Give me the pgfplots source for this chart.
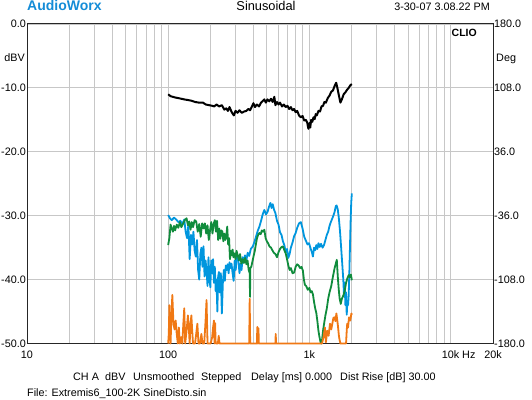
\documentclass[border=0pt]{standalone}
\usepackage{pgfplots}
\pgfplotsset{compat=1.18}
\usepackage{fontspec}
\setmainfont{Liberation Sans}
\definecolor{cblue}{RGB}{0,150,222}
\definecolor{cgreen}{RGB}{16,140,60}
\definecolor{corange}{RGB}{240,120,20}
\definecolor{awblue}{RGB}{20,140,215}
\begin{document}
\begin{tikzpicture}
\path[use as bounding box] (0,0) rectangle (532bp,400bp);
\begin{axis}[
  at={(27bp,56.5bp)}, anchor=south west, scale only axis,
  width=466bp, height=319.5bp,
  xmode=log, xmin=10, xmax=20000, ymin=-50, ymax=0,
  xtick={10,100,1000,10000,20000},
  xticklabels={10,100,1k,10k\rlap{ Hz},20k},
  minor xtick={20,30,40,50,60,70,80,90,200,300,400,500,600,700,800,900,2000,3000,4000,5000,6000,7000,8000,9000},
  ytick={-50,-40,-30,-20,-10,0},
  yticklabels={-50.0,-40.0,-30.0,-20.0,-10.0,0.0},
  xmajorgrids, xminorgrids, ymajorgrids,
  major grid style={black!22, line width=0.8bp},
  minor grid style={black!22, line width=0.8bp},
  major tick length=0pt, minor tick length=0pt,
  axis line style={black!85, line width=1bp},
  tick label style={font=\fontsize{10.8bp}{12bp}\selectfont},
  xticklabel style={yshift=-4bp},
  yticklabel style={inner sep=1bp},
  clip=false,
]
% blue
\addplot[cblue, line width=1.8bp, line join=round] coordinates {
(100,-29.9) (103,-30.4) (106,-30.7) (110,-30.3) (114,-30.6) (118,-31.0) (122,-30.8) (126,-31.3) (130,-30.6) (133,-32.5) (136,-33.5) (139,-31.5) (142,-36.8) (145,-33.0) (148,-34.5) (151,-32.5) (154,-35.5) (157,-36.4) (160,-33.8) (163,-38.5) (166,-40.0) (169,-36.0) (172,-35.0) (175,-38.0) (178,-34.8) (181,-39.5) (184,-37.0) (187,-38.6) (190,-41.0) (193,-36.5) (196,-39.8) (199,-41.2) (202,-37.0) (205,-39.0) (208,-36.8) (211,-40.5) (214,-38.0) (217,-41.8) (220,-40.0) (223,-45.0) (226,-39.5) (229,-38.8) (232,-42.0) (236,-39.0) (240,-45.3) (244,-40.5) (248,-38.5) (252,-40.2) (256,-37.8) (260,-38.5) (264,-37.6) (268,-39.0) (272,-37.3) (276,-38.2) (281,-37.5) (286,-39.0) (291,-40.2) (296,-37.0) (301,-38.5) (306,-36.3) (313,-36.5) (320,-39.0) (326,-37.5) (331,-38.5) (337,-36.5) (343,-37.3) (350,-36.2) (358,-37.0) (366,-35.8) (375,-36.3) (385,-35.2) (398,-34.8) (410,-34.0) (420,-33.2) (432,-32.3) (443,-31.7) (455,-30.8) (467,-29.8) (480,-29.1) (493,-29.8) (506,-29.4) (518,-28.6) (530,-28.0) (540,-28.8) (550,-28.2) (563,-29.1) (575,-29.6) (590,-30.8) (605,-31.4) (620,-32.6) (635,-33.0) (650,-34.0) (665,-34.6) (680,-35.7) (695,-35.2) (710,-36.6) (725,-36.0) (740,-35.0) (760,-34.2) (780,-33.2) (800,-32.7) (820,-31.9) (845,-31.2) (870,-31.0) (895,-32.0) (920,-33.3) (945,-33.9) (970,-34.5) (995,-34.3) (1020,-35.1) (1045,-35.8) (1060,-36.4) (1080,-35.0) (1100,-35.4) (1120,-34.6) (1140,-35.2) (1160,-34.3) (1185,-34.9) (1210,-34.4) (1240,-35.0) (1270,-34.6) (1300,-33.8) (1330,-33.0) (1360,-32.5) (1390,-31.6) (1420,-31.0) (1450,-30.5) (1480,-30.0) (1510,-29.4) (1540,-28.5) (1560,-28.4) (1590,-29.0) (1620,-30.5) (1650,-32.5) (1680,-35.0) (1710,-37.5) (1740,-40.0) (1760,-42.5) (1780,-40.5) (1800,-44.0) (1820,-42.0) (1840,-45.5) (1860,-43.5) (1880,-44.0) (1900,-42.5) (1920,-39.0) (1940,-35.0) (1960,-31.0) (1980,-28.0) (2000,-26.5)
};
% green
\addplot[cgreen, line width=1.8bp, line join=round] coordinates {
(100,-34.6) (102,-33.5) (104,-31.4) (106,-32.0) (108,-32.5) (110,-31.6) (112,-32.3) (115,-31.4) (118,-31.9) (121,-31.0) (124,-31.8) (128,-31.2) (132,-30.6) (135,-30.4) (138,-31.5) (141,-30.9) (144,-32.2) (147,-31.0) (150,-31.8) (154,-30.7) (158,-30.9) (162,-32.5) (166,-31.3) (170,-33.3) (174,-31.2) (178,-32.0) (182,-31.2) (186,-32.8) (190,-31.5) (194,-33.8) (198,-32.3) (202,-31.0) (206,-32.8) (210,-31.3) (214,-30.7) (218,-32.5) (222,-30.8) (226,-33.8) (230,-32.0) (234,-33.6) (238,-32.3) (242,-32.5) (246,-34.0) (250,-32.8) (254,-33.8) (258,-33.2) (262,-31.7) (266,-34.5) (270,-33.5) (274,-36.8) (278,-35.5) (282,-36.2) (286,-35.3) (290,-36.5) (295,-35.9) (300,-36.8) (305,-35.5) (311,-36.2) (317,-37.0) (323,-36.0) (330,-37.5) (337,-36.8) (344,-37.4) (351,-36.6) (358,-37.6) (365,-37.0) (372,-38.5) (378,-39.0) (380,-42.7) (382,-38.2) (388,-38.0) (395,-37.2) (402,-36.4) (410,-35.6) (418,-34.5) (426,-33.5) (434,-33.0) (443,-32.7) (452,-32.9) (461,-32.3) (470,-32.5) (480,-32.2) (490,-33.5) (500,-34.0) (510,-34.3) (522,-34.8) (535,-35.0) (547,-35.4) (560,-35.8) (575,-36.0) (590,-36.5) (605,-35.7) (620,-35.2) (635,-34.9) (650,-34.8) (665,-35.4) (680,-35.9) (695,-36.8) (710,-37.8) (725,-38.5) (740,-38.2) (760,-39.0) (780,-38.9) (800,-38.0) (820,-37.6) (840,-37.8) (860,-38.2) (880,-38.0) (900,-38.6) (915,-40.0) (930,-40.8) (950,-41.0) (975,-41.6) (1000,-41.3) (1020,-42.0) (1040,-41.8) (1060,-42.3) (1080,-43.5) (1100,-44.5) (1120,-45.2) (1140,-46.5) (1160,-48.0) (1180,-49.0) (1200,-49.8) (1215,-50.0) (1230,-49.5) (1250,-48.0) (1270,-47.0) (1300,-45.6) (1330,-44.5) (1360,-43.0) (1390,-42.0) (1430,-41.0) (1470,-39.5) (1510,-38.2) (1540,-37.5) (1565,-36.9) (1590,-39.5) (1615,-41.5) (1640,-43.0) (1670,-43.8) (1700,-43.0) (1740,-42.5) (1780,-41.8) (1820,-40.5) (1860,-39.8) (1900,-39.3) (1940,-39.6) (1970,-39.2) (2000,-40.1)
};
% orange
\addplot[corange, line width=1.8bp, line join=round] coordinates {
(100,-50) (101,-48.5) (102,-44.0) (103,-48.5) (104,-50) (105,-47.0) (107,-42.4) (109,-46.9) (111,-47.8) (113,-46.4) (115,-48.5) (117,-50) (119,-47.5) (121,-50) (124,-49) (126,-50) (128,-47.0) (130,-44.5) (132,-50) (135,-48.0) (138,-45.6) (140,-47.5) (142,-50) (144,-47) (146,-45.6) (148,-48) (150,-50) (155,-50) (158,-48.5) (161,-46.9) (164,-50) (168,-50) (172,-48.5) (175,-50) (180,-50) (184,-46.5) (187,-43.2) (190,-50) (200,-50) (205,-49) (208,-47.5) (211,-46.4) (213,-50) (215,-46.8) (217,-50) (225,-50) (228,-48.8) (231,-50) (375,-50) (378,-43.0) (381,-50) (425,-50) (428,-47.4) (431,-50) (436,-47.6) (439,-50) (575,-50) (578,-48.5) (581,-50) (1230,-50) (1260,-49.0) (1290,-47.5) (1310,-49.8) (1340,-48.0) (1370,-48.8) (1400,-46.9) (1430,-47.8) (1455,-46.9) (1480,-46.0) (1507,-45.9) (1530,-46.5) (1555,-45.3) (1580,-46.5) (1597,-47.4) (1620,-48.8) (1640,-49.5) (1660,-50) (1820,-50) (1840,-48.0) (1855,-46.9) (1880,-47.5) (1910,-45.9) (1950,-46.4) (1986,-45.3) (2000,-45.5)
};
% black
\addplot[black, line width=2bp, line join=round] coordinates {
(100,-11.0) (104,-11.3) (108,-11.4) (112,-11.5) (118,-11.6) (124,-11.7) (130,-11.8) (138,-11.9) (146,-12.0) (155,-12.2) (165,-12.3) (176,-12.3) (185,-12.6) (195,-12.7) (205,-12.8) (212,-12.9) (220,-12.6) (230,-12.9) (240,-12.7) (250,-13.4) (258,-13.2) (265,-13.6) (272,-13.0) (282,-13.8) (292,-14.3) (300,-13.6) (310,-13.9) (320,-13.5) (332,-13.9) (345,-13.7) (358,-13.6) (370,-13.3) (380,-13.5) (392,-12.9) (402,-12.4) (412,-13.0) (425,-12.6) (440,-12.9) (455,-12.3) (470,-12.0) (480,-11.8) (492,-12.3) (505,-11.8) (520,-12.1) (535,-11.7) (550,-12.2) (565,-11.4) (575,-12.7) (590,-12.2) (605,-12.6) (620,-12.3) (640,-12.9) (660,-12.6) (680,-13.0) (700,-12.8) (720,-13.3) (740,-13.0) (760,-13.5) (780,-13.3) (800,-13.8) (820,-13.6) (845,-14.3) (870,-14.6) (895,-14.4) (920,-15.1) (945,-15.0) (965,-15.4) (985,-16.4) (1000,-15.5) (1015,-16.2) (1030,-15.0) (1050,-15.3) (1070,-14.6) (1090,-14.9) (1110,-14.1) (1130,-14.3) (1160,-13.6) (1190,-13.7) (1220,-12.9) (1250,-12.8) (1280,-12.2) (1310,-12.3) (1350,-11.6) (1390,-11.2) (1430,-10.6) (1470,-10.4) (1510,-9.7) (1550,-9.2) (1580,-10.0) (1620,-11.2) (1660,-12.3) (1700,-11.8) (1750,-11.0) (1800,-10.7) (1850,-10.3) (1900,-10.0) (1950,-9.6) (2000,-9.4)
};
\end{axis}
\begin{axis}[
  at={(27bp,56.5bp)}, anchor=south west, scale only axis,
  width=466bp, height=319.5bp,
  xmode=log, xmin=10, xmax=20000, ymin=-180, ymax=180,
  axis x line=none, axis y line*=right,
  ytick={-180,-108,-36,36,108,180},
  yticklabels={-180.0,-108.0,-36.0,36.0,108.0,180.0},
  major tick length=0pt,
  axis line style={black!85, line width=1bp},
  tick label style={font=\fontsize{10.8bp}{12bp}\selectfont},
  yticklabel style={inner sep=1bp},
]
\addplot[draw=none] coordinates {(10,0)};
\end{axis}
\begin{scope}[font=\fontsize{10.8bp}{12bp}\selectfont]
\node[anchor=base east, inner sep=0] at (25bp,338bp) {dBV};
\node[anchor=base west, inner sep=0] at (496bp,338bp) {Deg};
\node[anchor=base east, inner sep=0, font=\fontsize{10.5bp}{12bp}\selectfont\bfseries] at (477bp,363bp) {CLIO};
\node[anchor=base west, inner sep=0, font=\fontsize{14bp}{15bp}\selectfont\bfseries, text=awblue] at (27bp,389.5bp) {AudioWorx};
\node[anchor=base, inner sep=0, font=\fontsize{12.8bp}{14bp}\selectfont] at (266bp,389.5bp) {Sinusoidal};
\node[anchor=base east, inner sep=0] at (490bp,389.5bp) {3-30-07 3.08.22 PM};
\node[anchor=base west, inner sep=0] at (73bp,20bp) {CH A};
\node[anchor=base west, inner sep=0] at (105bp,20bp) {dBV};
\node[anchor=base west, inner sep=0] at (133bp,20bp) {Unsmoothed};
\node[anchor=base west, inner sep=0] at (201bp,20bp) {Stepped};
\node[anchor=base west, inner sep=0] at (251bp,20bp) {Delay [ms] 0.000};
\node[anchor=base west, inner sep=0] at (340bp,20bp) {Dist Rise [dB] 30.00};
\node[anchor=base west, inner sep=0] at (27bp,3.5bp) {File: Extremis6\_100-2K SineDisto.sin};
\end{scope}
\end{tikzpicture}
\end{document}
